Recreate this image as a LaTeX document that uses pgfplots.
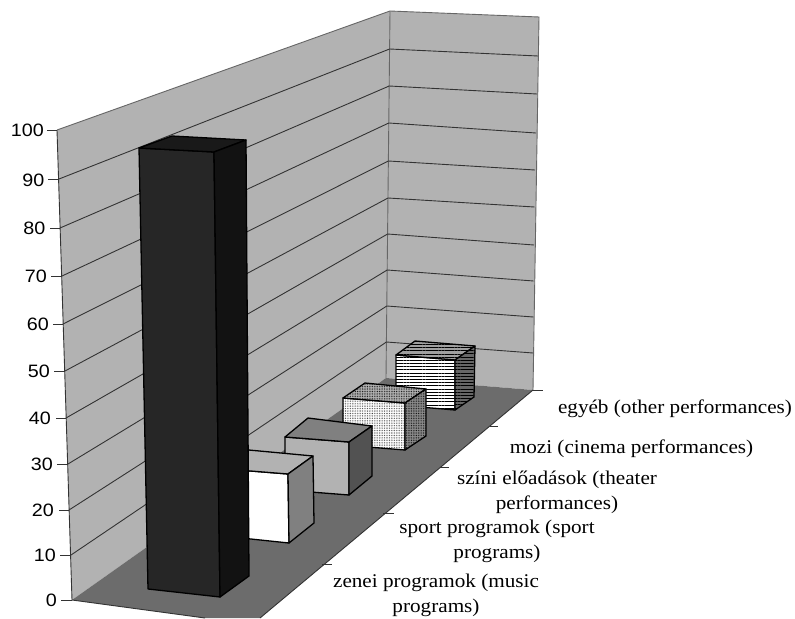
\documentclass[border=0pt]{standalone}
\usepackage{pgfplots}
\pgfplotsset{compat=1.18}
\usepackage{fontspec}
\setmainfont{Liberation Serif}
\newfontfamily\arialfont{Liberation Sans}
\usetikzlibrary{patterns.meta}
\definecolor{wall}{HTML}{B2B2B2}
\definecolor{floorc}{HTML}{6C6C6C}
\definecolor{edgec}{HTML}{666666}
\definecolor{gridc}{HTML}{333333}
% one plotted face of a box: fill and outline
\newcommand{\face}[2]{\addplot[fill=#1,draw=black,line width=1.3pt,line join=round,forget plot] coordinates {#2} --cycle;}
% a face with a texture laid over the fill
\newcommand{\texface}[3]{%
  \addplot[fill=#1,draw=none,forget plot,postaction={pattern={#2},pattern color=black}] coordinates {#3} --cycle;
  \addplot[draw=black,line width=1.3pt,line join=round,forget plot] coordinates {#3} --cycle;}
\newcommand{\gridline}[1]{\addplot[draw=gridc,line width=0.9pt,forget plot] coordinates {#1};}
\newcommand{\ticklab}[3]{\node[anchor=east,xscale=1.1,inner sep=0pt,font=\arialfont\fontsize{18}{20}\selectfont] at (axis cs:#1,#2) {#3};}
\newcommand{\catlab}[3]{\node[align=center,inner sep=0pt,xscale=1.09,font=\fontsize{19.5}{24.5}\selectfont] at (axis cs:#1,#2) {#3};}
\begin{document}
\begin{tikzpicture}
\begin{axis}[
  scale only axis, width=795bp, height=618bp,
  xmin=0, xmax=795, ymin=0, ymax=618, y dir=reverse,
  hide axis, clip=false]
% full canvas
\addplot[fill=white,draw=none,forget plot] coordinates {(0,0)(795,0)(795,618)(0,618)} --cycle;
% walls and floor
\addplot[fill=wall,draw=none,forget plot] coordinates {(57,130)(390,11)(386,378)(72,600)} --cycle;
\addplot[fill=wall,draw=none,forget plot] coordinates {(390,11)(539,17)(533,390)(386,378)} --cycle;
\addplot[fill=floorc,draw=none,forget plot] coordinates {(72,600)(205,618)(260,618)(533,390)(386,378)} --cycle;
% wall edges
\addplot[draw=edgec,line width=0.9pt,forget plot] coordinates {(57,130)(390,11)(539,17)(533,390)};
\addplot[draw=edgec,line width=0.9pt,forget plot] coordinates {(390,11)(386,378)};
\addplot[draw=gridc,line width=0.9pt,forget plot] coordinates {(57,130)(72,600)};
\addplot[draw=gridc,line width=0.9pt,forget plot] coordinates {(72,600)(205,618)};
\addplot[draw=gridc,line width=0.9pt,forget plot] coordinates {(260,618)(533,390)};
% gridlines on both walls, 90 down to 10
\gridline{(59,179)(389.6,49)(538,56)}
\gridline{(60,228)(389.2,86)(537,94)}
\gridline{(62,276)(388.8,123)(536,133)}
\gridline{(63,324)(388.4,161)(535,170)}
\gridline{(65,371)(388,198)(534.5,207)}
\gridline{(66,418)(387.6,234)(534,245)}
\gridline{(68,464)(387.2,270)(533.7,281)}
\gridline{(69,510)(386.8,306)(533.4,317)}
\gridline{(71,555)(386.4,342)(533.2,353)}
% value axis ticks
\addplot[draw=gridc,line width=0.9pt,forget plot] coordinates {(47,130)(57,130)};
\addplot[draw=gridc,line width=0.9pt,forget plot] coordinates {(48,179)(59,179)};
\addplot[draw=gridc,line width=0.9pt,forget plot] coordinates {(50,228)(60,228)};
\addplot[draw=gridc,line width=0.9pt,forget plot] coordinates {(51,276)(62,276)};
\addplot[draw=gridc,line width=0.9pt,forget plot] coordinates {(53,324)(63,324)};
\addplot[draw=gridc,line width=0.9pt,forget plot] coordinates {(54,371)(65,371)};
\addplot[draw=gridc,line width=0.9pt,forget plot] coordinates {(56,418)(66,418)};
\addplot[draw=gridc,line width=0.9pt,forget plot] coordinates {(57,464)(68,464)};
\addplot[draw=gridc,line width=0.9pt,forget plot] coordinates {(59,510)(69,510)};
\addplot[draw=gridc,line width=0.9pt,forget plot] coordinates {(60,555)(71,555)};
\addplot[draw=gridc,line width=0.9pt,forget plot] coordinates {(61,600)(72,600)};
% category axis ticks
\addplot[draw=gridc,line width=0.9pt,forget plot] coordinates {(322,564)(332,564)};
\addplot[draw=gridc,line width=0.9pt,forget plot] coordinates {(383,513)(394,513)};
\addplot[draw=gridc,line width=0.9pt,forget plot] coordinates {(440,467)(449,467)};
\addplot[draw=gridc,line width=0.9pt,forget plot] coordinates {(490,426)(498,426)};
\addplot[draw=gridc,line width=0.9pt,forget plot] coordinates {(533,390)(543,390)};
% egyeb
\texface{white}{Lines[angle=0,distance=3.2pt,line width=0.6pt]}{(396,355)(455,360)(455,410)(396,405)}
\texface{gray!75}{Lines[angle=0,distance=3.2pt,line width=0.5pt]}{(396,355)(415,341)(475,346)(455,360)}
\texface{black!60}{Lines[angle=0,distance=3.2pt,line width=0.7pt]}{(455,360)(475,346)(474,397)(455,410)}
% mozi
\texface{white}{Dots[radius=0.38pt,distance=1.7pt]}{(343,398)(405,403)(405,450)(343,445)}
\texface{black!30}{Dots[radius=0.45pt,distance=1.7pt]}{(343,398)(365,383)(426,389)(405,403)}
\texface{black!45}{Dots[radius=0.45pt,distance=1.7pt]}{(405,403)(426,389)(426,436)(405,450)}
% szini eloadasok
\face{wall}{(285,437)(349,442)(349,495)(285,490)}
\face{black!50}{(285,437)(308,418)(372,426)(349,442)}
\face{black!68}{(349,442)(372,426)(372,476)(349,495)}
% sport programok
\face{white}{(213,468)(288,474)(289,543)(213,535)}
\face{wall}{(213,468)(238,449)(313,456)(288,474)}
\face{black!50}{(288,474)(313,456)(314,523)(289,543)}
% zenei programok
\face{black!85}{(139,148)(214,152)(220,597)(148,589)}
\face{black!90}{(139,148)(172,136)(246,140)(214,152)}
\face{black!93}{(214,152)(246,140)(249,576)(220,597)}
% value axis labels
\ticklab{44}{130}{100}
\ticklab{44.5}{180}{90}
\ticklab{45.5}{228}{80}
\ticklab{47}{276}{70}
\ticklab{49}{324}{60}
\ticklab{50}{371}{50}
\ticklab{51}{418}{40}
\ticklab{53}{464}{30}
\ticklab{54}{510}{20}
\ticklab{56}{555}{10}
\ticklab{57}{600}{0}
% category labels
\catlab{675}{409}{egyéb (other performances)}
\catlab{631.5}{449}{mozi (cinema performances)}
\catlab{557}{492.5}{színi előadások (theater\\performances)}
\catlab{497}{541.5}{sport programok (sport\\programs)}
\catlab{436}{595.5}{zenei programok (music\\programs)}
\end{axis}
\end{tikzpicture}
\end{document}
